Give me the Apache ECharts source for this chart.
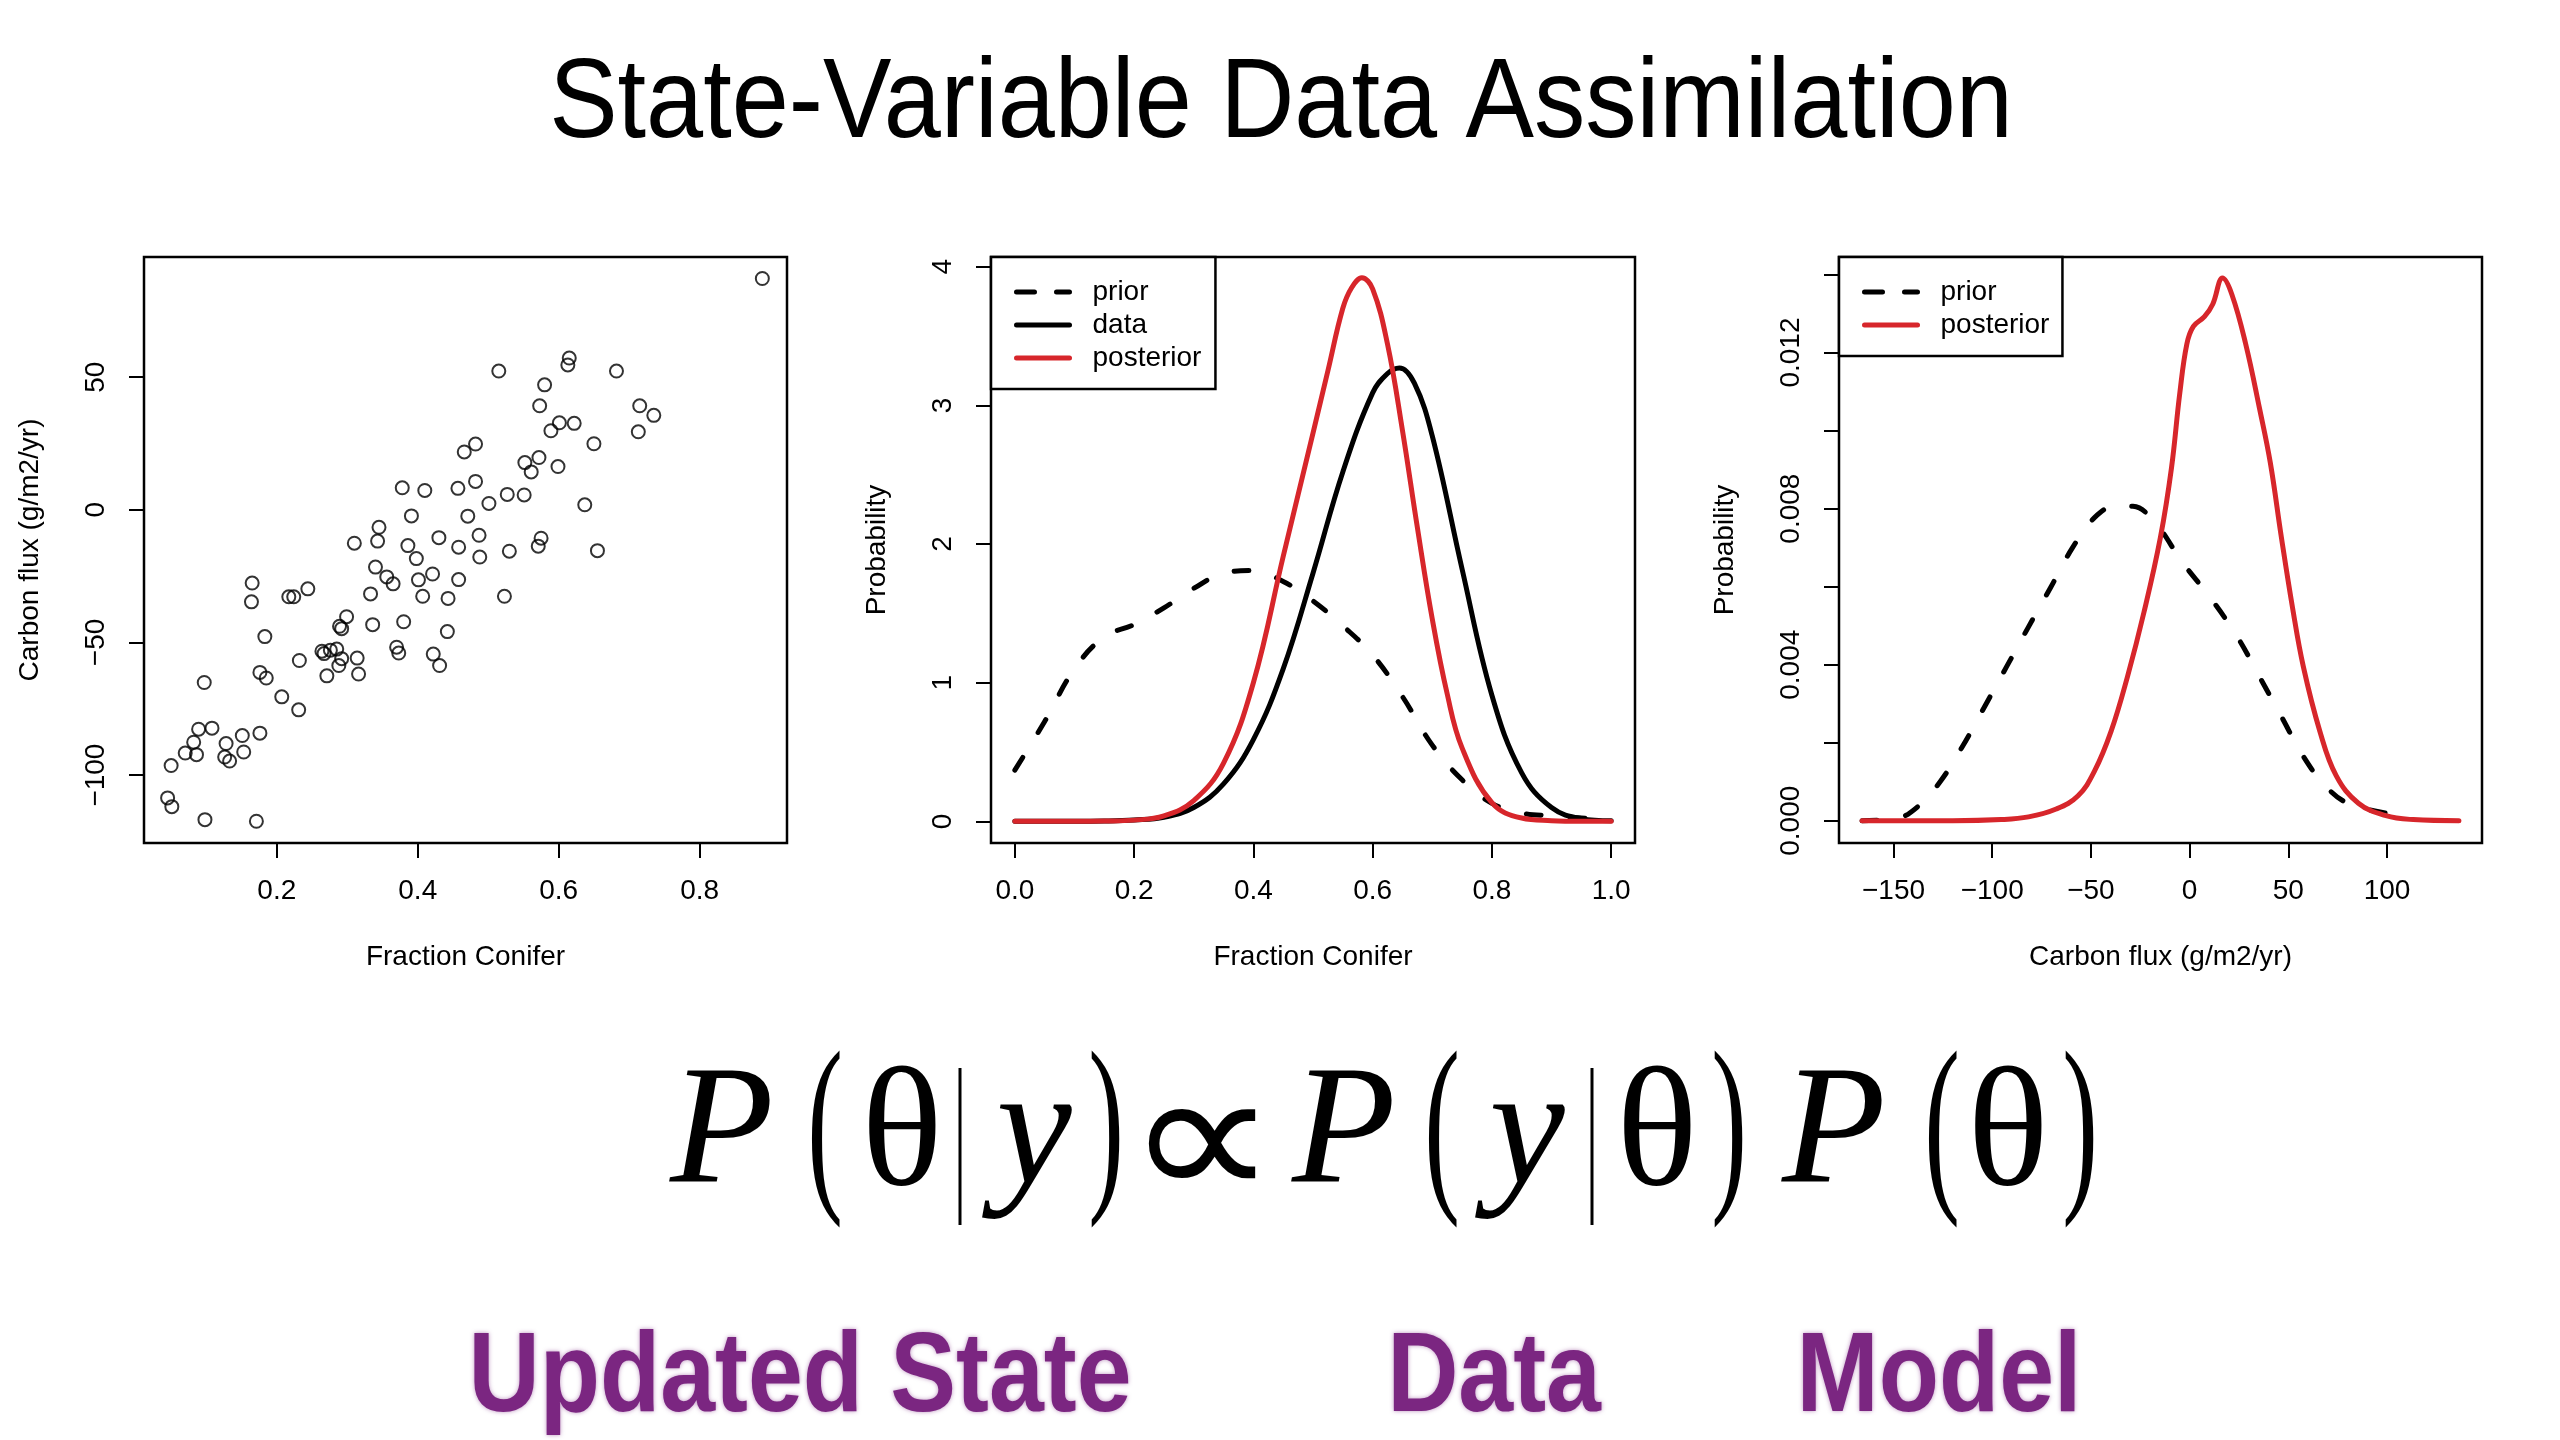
<!DOCTYPE html>
<html style="height: 100%">
<head>
    <meta charset="utf-8">
    <script src="https://cdn.jsdelivr.net/npm/echarts@6/dist/echarts.min.js"></script>
</head>
<body style="height: 100%; margin: 0; background: #fff">
<div id="container" style="width: 2560px; height: 1440px"></div>

<script type="text/javascript">
    // panel 1: scatter of fraction conifer vs carbon flux
    var coniferFrac = [0.889,0.615,0.613,0.515,0.682,0.580,0.573,0.715,0.735,0.601,
        0.622,0.589,0.713,0.466,0.482,0.650,0.572,0.552,0.561,0.599,
        0.482,0.378,0.457,0.410,0.527,0.551,0.501,0.637,0.471,0.391,
        0.345,0.343,0.310,0.487,0.430,0.575,0.571,0.386,0.458,0.530,
        0.655,0.398,0.488,0.340,0.356,0.365,0.421,0.401,0.458,0.244,
        0.165,0.164,0.217,0.224,0.333,0.407,0.443,0.523,0.299,0.289,
        0.292,0.336,0.380,0.442,0.183,0.264,0.267,0.276,0.285,0.370,
        0.373,0.422,0.232,0.314,0.292,0.288,0.431,0.271,0.316,0.176,
        0.185,0.097,0.207,0.231,0.089,0.108,0.151,0.176,0.082,0.128,
        0.070,0.086,0.153,0.126,0.133,0.050,0.045,0.051,0.098,0.171];
    var carbonFlux = [87.2,57.2,54.6,52.3,52.3,47.1,39.2,39.2,35.6,32.8,
        32.6,29.8,29.4,21.8,24.8,24.9,19.7,17.8,14.3,16.3,
        10.7,8.3,8.1,7.3,5.8,5.6,2.4,1.9,-2.4,-2.3,
        -6.6,-11.8,-12.6,-9.6,-10.5,-10.7,-13.7,-13.5,-14.1,-15.6,
        -15.4,-18.4,-17.8,-21.6,-25.3,-27.9,-24.2,-26.4,-26.3,-29.8,
        -27.6,-34.7,-32.8,-32.8,-31.7,-32.6,-33.4,-32.6,-40.3,-43.9,
        -44.8,-43.3,-42.2,-45.9,-47.8,-53.3,-54.2,-52.9,-52.5,-51.8,
        -54.0,-54.4,-56.8,-55.9,-56.1,-58.7,-58.7,-62.6,-61.9,-61.3,
        -63.4,-65.1,-70.5,-75.4,-82.7,-82.3,-85.1,-84.2,-87.6,-88.1,
        -91.7,-92.3,-91.3,-93.2,-94.7,-96.4,-108.6,-111.9,-116.8,-117.4];

    // panel 2: densities over fraction conifer
    var fracPriorX = [0,0.05,0.10,0.15,0.20,0.25,0.30,0.35,0.40,0.45,0.50,0.55,0.60,0.65,0.70,0.75,0.80,0.85,0.90,0.95,1.0];
    var fracPriorY = [0.37,0.72,1.10,1.33,1.42,1.54,1.68,1.79,1.81,1.73,1.59,1.41,1.20,0.90,0.55,0.30,0.13,0.06,0.04,0.025,0.01];
    var fracDataX = [0,0.10,0.15,0.20,0.25,0.30,0.35,0.40,0.45,0.50,0.55,0.60,0.625,0.645,0.67,0.70,0.75,0.80,0.85,0.90,0.95,1.0];
    var fracDataY = [0,0,0.002,0.01,0.03,0.10,0.27,0.59,1.10,1.79,2.52,3.09,3.23,3.27,3.16,2.78,1.82,0.91,0.35,0.10,0.02,0.005];
    var fracPostX = [0,0.10,0.15,0.20,0.25,0.30,0.35,0.40,0.45,0.50,0.525,0.55,0.565,0.582,0.60,0.625,0.65,0.675,0.70,0.725,0.75,0.80,0.85,0.90,0.95,1.0];
    var fracPostY = [0,0,0.002,0.009,0.04,0.15,0.42,1.0,1.91,2.8,3.25,3.7,3.85,3.92,3.84,3.44,2.82,2.12,1.46,0.92,0.53,0.135,0.024,0.005,0,0];

    // panel 3: densities over carbon flux
    var fluxPriorX = [-165.9,-148.4,-137.3,-126.1,-115,-103.8,-92.7,-81.6,-70.4,-59.3,-48.2,-37,-28.7,-17.5,-3.6,10.3,24.2,35.4,46.5,57.6,68.8,79.9,93.8,107.7,112];
    var fluxPriorY = [0,0.00006,0.00038,0.00102,0.00191,0.00293,0.00395,0.00497,0.00598,0.0070,0.00777,0.00807,0.00806,0.00764,0.00662,0.00573,0.00471,0.00369,0.00267,0.00165,0.00089,0.00045,0.00025,0.00013,0.0001];
    var fluxPostX = [-165.9,-120,-95.5,-81.6,-67.6,-56.5,-48.2,-39.8,-31.5,-23.1,-14.8,-9.2,-5,-1.4,1.9,7.5,11.7,16.7,21.4,28.4,35.4,40.9,46.5,52.1,57.6,66,74.3,85.5,99.4,113.3,136.4];
    var fluxPostY = [0,0,0.00003,0.0001,0.0003,0.00064,0.00127,0.00229,0.00369,0.00535,0.00726,0.00904,0.01095,0.01222,0.01267,0.01292,0.01324,0.01391,0.01349,0.01222,0.01057,0.00917,0.00726,0.00547,0.00395,0.00229,0.00115,0.00045,0.00013,0.00003,0];

    // tick positions
    var scatterXTicks = [0.2, 0.4, 0.6, 0.8];
    var scatterYTicks = [-100, -50, 0, 50];
    var fracXTicks = [0, 0.2, 0.4, 0.6, 0.8, 1.0];
    var probYTicks = [0, 1, 2, 3, 4];
    var fluxXTicks = [-150, -100, -50, 0, 50, 100];
    var fluxYTicks = [0, 0.002, 0.004, 0.006, 0.008, 0.010, 0.012, 0.014];
    var fluxYLabels = [0, 0.004, 0.008, 0.012];

    function zip(xs, ys) {
        var out = [];
        for (var i = 0; i < xs.length; i++) out.push([xs[i], ys[i]]);
        return out;
    }
    function minus(v) { return String(v).replace('-', '\u2212'); }

    var FONT = 'Liberation Sans';
    var RED = '#d7262b';

    function xAx(idx, min, max, ticks, fmt, name) {
        return {
            type: 'value', gridIndex: idx, min: min, max: max,
            name: name, nameLocation: 'middle', nameGap: 100,
            nameTextStyle: {fontSize: 28, color: '#000', fontFamily: FONT},
            splitLine: {show: false}, axisLine: {show: false, onZero: false},
            axisTick: {show: true, customValues: ticks, length: 15, lineStyle: {color: '#000', width: 2}},
            axisLabel: {customValues: ticks, formatter: fmt, fontSize: 28, color: '#000', fontFamily: FONT, margin: 34}
        };
    }
    function yAx(idx, min, max, ticks, labels, fmt, name) {
        return {
            type: 'value', gridIndex: idx, min: min, max: max,
            name: name, nameLocation: 'middle', nameGap: 100,
            nameTextStyle: {fontSize: 28, color: '#000', fontFamily: FONT},
            splitLine: {show: false}, axisLine: {show: false, onZero: false},
            axisTick: {show: true, customValues: ticks, length: 15, lineStyle: {color: '#000', width: 2}},
            axisLabel: {customValues: labels, formatter: fmt, rotate: 90, fontSize: 28, color: '#000', fontFamily: FONT, margin: 34}
        };
    }
    function curve(name, xi, data, color, dashed) {
        return {
            type: 'line', name: name, xAxisIndex: xi, yAxisIndex: xi, data: data,
            symbol: 'none', smooth: 0.4, silent: true,
            lineStyle: {color: color, width: 5, type: dashed ? [15, 29] : 'solid', cap: 'round', join: 'round'},
            itemStyle: {color: color}
        };
    }
    function legendItem(name, color, dashed) {
        return {
            name: name,
            itemStyle: {color: 'rgba(0,0,0,0)', borderWidth: 0},
            lineStyle: {color: color, width: 5, type: dashed ? [18, 22] : 'solid', cap: 'round'}
        };
    }
    function txt(s, x, y, size, opts) {
        opts = opts || {};
        return {
            type: 'text', x: x, y: y, scaleX: opts.sx || 1, silent: true,
            style: {
                text: s, fontSize: size, fontFamily: opts.family || 'Liberation Serif',
                fontStyle: opts.italic ? 'italic' : 'normal', fontWeight: opts.bold ? 'bold' : 'normal',
                fill: opts.color || '#000', textAlign: 'center', textVerticalAlign: 'middle',
                textShadowColor: opts.shadow || 'transparent', textShadowBlur: opts.shadow ? 4 : 0
            }
        };
    }

    var legendBase = {
        orient: 'vertical', top: 257, borderColor: '#000', borderWidth: 2.5,
        backgroundColor: '#fff', itemWidth: 53, itemHeight: 14, itemGap: 5,
        selectedMode: false, borderRadius: 0,
        itemStyle: {color: 'rgba(0,0,0,0)', borderWidth: 0},
        lineStyle: {width: 5, cap: 'round'},
        textStyle: {fontSize: 28, color: '#000', fontFamily: FONT, padding: [0, 0, 0, 18]}
    };

    var purple = '#7b2681';
    var myChart = echarts.init(document.getElementById('container'));
    var option = {
        backgroundColor: '#fff',
        animation: false,
        grid: [
            {left: 144, top: 257, width: 643, height: 586, show: true, borderColor: '#000', borderWidth: 2.5},
            {left: 991, top: 257, width: 644, height: 586, show: true, borderColor: '#000', borderWidth: 2.5},
            {left: 1839, top: 257, width: 643, height: 586, show: true, borderColor: '#000', borderWidth: 2.5}
        ],
        xAxis: [
            xAx(0, 0.0115, 0.924, scatterXTicks, function (v) { return v.toFixed(1); }, 'Fraction Conifer'),
            xAx(1, -0.04, 1.04, fracXTicks, function (v) { return v.toFixed(1); }, 'Fraction Conifer'),
            xAx(2, -177.6, 148.1, fluxXTicks, minus, 'Carbon flux (g/m2/yr)')
        ],
        yAxis: [
            yAx(0, -125.6, 95.3, scatterYTicks, scatterYTicks, minus, 'Carbon flux (g/m2/yr)'),
            yAx(1, -0.156, 4.07, probYTicks, probYTicks, function (v) { return String(v); }, 'Probability'),
            yAx(2, -0.00057, 0.01445, fluxYTicks, fluxYLabels, function (v) { return v.toFixed(3); }, 'Probability')
        ],
        legend: [
            Object.assign({}, legendBase, {left: 991, padding: [21, 14, 17, 23],
                data: [legendItem('prior', '#000', true), legendItem('data', '#000', false), legendItem('posterior', RED, false)]}),
            Object.assign({}, legendBase, {left: 1839, padding: [21, 13, 17, 23],
                data: [legendItem('prior', '#000', true), legendItem('posterior', RED, false)]})
        ],
        series: [
            {
                type: 'scatter', xAxisIndex: 0, yAxisIndex: 0, data: zip(coniferFrac, carbonFlux),
                symbol: 'circle', symbolSize: 13, silent: true,
                itemStyle: {color: 'rgba(0,0,0,0)', borderColor: '#000', borderWidth: 2}
            },
            curve('prior', 1, zip(fracPriorX, fracPriorY), '#000', true),
            curve('data', 1, zip(fracDataX, fracDataY), '#000', false),
            curve('posterior', 1, zip(fracPostX, fracPostY), RED, false),
            curve('prior', 2, zip(fluxPriorX, fluxPriorY), '#000', true),
            curve('posterior', 2, zip(fluxPostX, fluxPostY), RED, false)
        ],
        graphic: [
            txt('State-Variable Data Assimilation', 1281, 106, 114, {family: FONT, sx: 0.9}),
            // Bayes formula
            txt('P', 722, 1137, 170, {italic: true}),
            txt('(', 825, 1135, 195, {sx: 0.55}),
            txt('\u03b8', 902, 1139, 170),
            {type: 'line', silent: true, shape: {x1: 960, y1: 1068, x2: 960, y2: 1225}, style: {stroke: '#000', lineWidth: 3}},
            txt('y', 1034, 1137, 170, {italic: true}),
            txt(')', 1106, 1135, 195, {sx: 0.55}),
            txt('\u221d', 1202, 1150, 185, {sx: 1.15}),
            txt('P', 1344, 1137, 170, {italic: true}),
            txt('(', 1442, 1135, 195, {sx: 0.55}),
            txt('y', 1527, 1137, 170, {italic: true}),
            {type: 'line', silent: true, shape: {x1: 1592, y1: 1068, x2: 1592, y2: 1225}, style: {stroke: '#000', lineWidth: 3}},
            txt('\u03b8', 1657, 1139, 170),
            txt(')', 1729, 1135, 195, {sx: 0.55}),
            txt('P', 1834, 1137, 170, {italic: true}),
            txt('(', 1942, 1135, 195, {sx: 0.55}),
            txt('\u03b8', 2008, 1139, 170),
            txt(')', 2080, 1135, 195, {sx: 0.55}),
            // labels under the formula
            txt('Updated State', 800, 1380, 114, {family: FONT, bold: true, sx: 0.865, color: purple, shadow: 'rgba(123,38,129,0.5)'}),
            txt('Data', 1494, 1380, 114, {family: FONT, bold: true, sx: 0.865, color: purple, shadow: 'rgba(123,38,129,0.5)'}),
            txt('Model', 1939, 1380, 114, {family: FONT, bold: true, sx: 0.865, color: purple, shadow: 'rgba(123,38,129,0.5)'})
        ]
    };
    myChart.setOption(option, true);
</script>
</body>
</html>
